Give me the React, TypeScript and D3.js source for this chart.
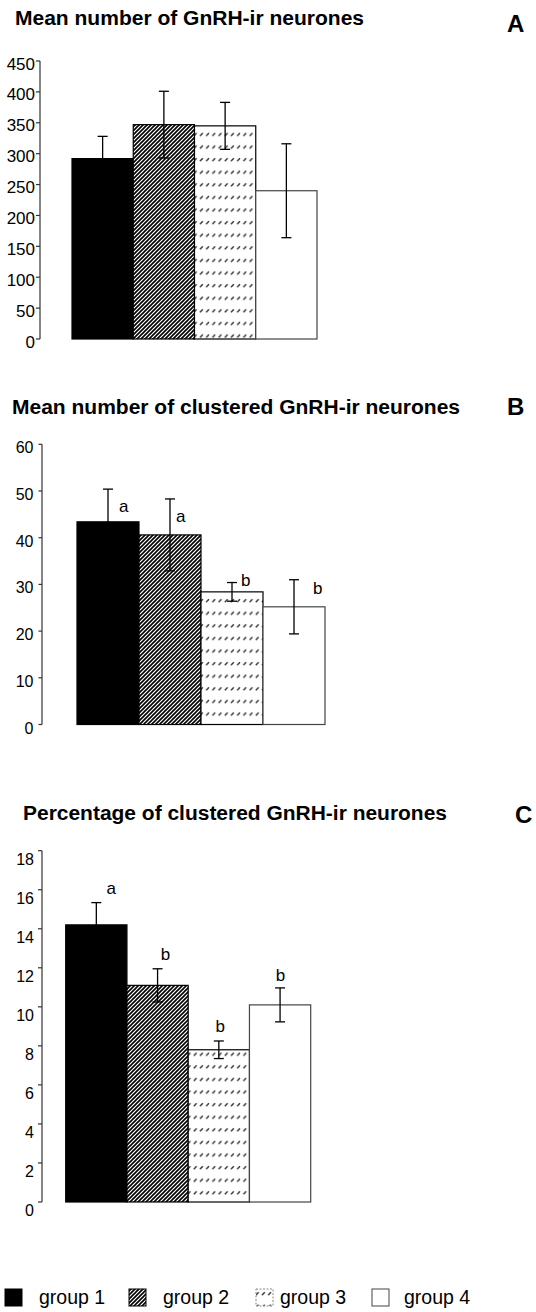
import * as d3 from "d3";

const groups = ["group 1", "group 2", "group 3", "group 4"];

const meanA = [292, 347, 345, 240];
const semA = [36, 54, 38, 76];
const ticksA = [0, 50, 100, 150, 200, 250, 300, 350, 400, 450];

const meanB = [43.4, 40.6, 28.4, 25.2];
const semB = [7.0, 7.7, 2.0, 5.8];
const lettersB = ["a", "a", "b", "b"];
const letterAtB = [45.6, 43.4, 29.7, 27.9];
const ticksB = [0, 10, 20, 30, 40, 50, 60];

const meanC = [14.2, 11.1, 7.8, 10.1];
const semC = [1.14, 0.85, 0.45, 0.87];
const lettersC = ["a", "b", "b", "b"];
const letterAtC = [15.8, 12.4, 8.7, 11.3];
const ticksC = [0, 2, 4, 6, 8, 10, 12, 14, 16, 18];

const FONT = "'Liberation Sans', Arial, Helvetica, sans-serif";
const FILLS = ["#000", "url(#hatch2)", "url(#dash3)", "#fff"];
const EDGES = ["#000", "#000", "#000", "#444"];

type PanelProps = {
  title: string; titleX: number; titleY: number; titleW: number;
  tag: string; tagX: number; tagY: number;
  means: number[]; sems: number[]; ticks: number[];
  letters?: string[]; letterAt?: number[]; letterDx?: number[]; letterAnchor?: string;
  axisX: number; yBottom: number; yTop: number; xBars: [number, number];
  tickFont: number; labelDy: number; labelRight: number; tickLen: number;
};

function Panel(p: PanelProps) {
  const max = p.ticks[p.ticks.length - 1];
  const y = d3.scaleLinear().domain([0, max]).range([p.yBottom, p.yTop]);
  const x = d3.scaleBand<string>().domain(groups).range(p.xBars).paddingInner(0).paddingOuter(0);
  const bw = x.bandwidth();
  return (
    <g fontFamily={FONT}>
      <text x={p.titleX} y={p.titleY} fontSize={20} fontWeight="bold" textLength={p.titleW} lengthAdjust="spacingAndGlyphs">{p.title}</text>
      <text x={p.tagX} y={p.tagY} fontSize={24} fontWeight="bold">{p.tag}</text>
      <line x1={p.axisX} x2={p.axisX} y1={y(max)} y2={y(0)} stroke="#333" strokeWidth={1.2} />
      {p.ticks.map(t => (
        <g key={t}>
          <line x1={p.axisX - p.tickLen} x2={p.axisX} y1={y(t)} y2={y(t)} stroke="#333" strokeWidth={1.2} />
          <text x={p.labelRight} y={y(t) + p.labelDy} fontSize={p.tickFont} textAnchor="end">{t}</text>
        </g>
      ))}
      {groups.map((g, i) => (
        <rect key={g} x={x(g)} y={y(p.means[i])} width={bw} height={y(0) - y(p.means[i])}
          fill={FILLS[i]} stroke={EDGES[i]} strokeWidth={1.2} />
      ))}
      {groups.map((g, i) => {
        const cx = (x(g) as number) + bw / 2;
        const hi = y(p.means[i] + p.sems[i]), lo = y(p.means[i] - p.sems[i]);
        return (
          <g key={g} stroke="#000" strokeWidth={1.3}>
            <line x1={cx} x2={cx} y1={hi} y2={lo} />
            <line x1={cx - 5} x2={cx + 5} y1={hi} y2={hi} />
            <line x1={cx - 5} x2={cx + 5} y1={lo} y2={lo} />
          </g>
        );
      })}
      {p.letters && p.letters.map((l, i) => (
        <text key={i} x={(x(groups[i]) as number) + bw / 2 + (p.letterDx ? p.letterDx[i] : 0)}
          y={y(p.letterAt![i])} fontSize={17} textAnchor={p.letterAnchor || "middle"}>{l}</text>
      ))}
    </g>
  );
}

export default function App() {
  const legendX = [5, 129, 256, 372];
  const legendTextX = [39, 163, 280, 404];
  return (
    <div style={{ position: "absolute", left: 0, top: 0 }}>
      <svg width={536} height={1312} viewBox="0 0 536 1312" style={{ display: "block", background: "#fff" }}>
        <defs>
          <pattern id="hatch2" patternUnits="userSpaceOnUse" width={4} height={4}>
            <rect width={4} height={4} fill="#fff" />
            <path d="M-0.5,4.5 L4.5,-0.5 M-1,1 L1,-1 M3,5 L5,3" stroke="#000" strokeWidth={1.6} />
          </pattern>
          <pattern id="dash3" patternUnits="userSpaceOnUse" width={6.2} height={12.6}>
            <rect width={6.2} height={12.6} fill="#fff" />
            <path d="M1.6,10 L4.4,7" stroke="#333" strokeWidth={1.4} />
          </pattern>
        </defs>
        <Panel title="Mean number of GnRH-ir neurones" titleX={15} titleY={25} titleW={349}
          tag="A" tagX={507} tagY={32}
          means={meanA} sems={semA} ticks={ticksA}
          axisX={40} yBottom={339} yTop={61} xBars={[72, 317]}
          tickFont={17} labelDy={8.5} labelRight={35} tickLen={4} />
        <Panel title="Mean number of clustered GnRH-ir neurones" titleX={12} titleY={414} titleW={448}
          tag="B" tagX={507} tagY={415}
          means={meanB} sems={semB} ticks={ticksB}
          letters={lettersB} letterAt={letterAtB} letterDx={[11, 6, 9, 19]} letterAnchor="start"
          axisX={42} yBottom={724.5} yTop={444.3} xBars={[77, 325]}
          tickFont={16} labelDy={9} labelRight={33.5} tickLen={3.5} />
        <Panel title="Percentage of clustered GnRH-ir neurones" titleX={23} titleY={820} titleW={424}
          tag="C" tagX={515} tagY={823}
          means={meanC} sems={semC} ticks={ticksC}
          letters={lettersC} letterAt={letterAtC} letterDx={[15, 8, 1.5, 0.5]}
          axisX={42} yBottom={1202} yTop={850.7} xBars={[65.7, 310.7]}
          tickFont={16} labelDy={14} labelRight={34} tickLen={4} />
        <g fontFamily={FONT}>
          {groups.map((g, i) => (
            <g key={g}>
              <rect x={legendX[i]} y={1289} width={17} height={17} fill={FILLS[i]}
                stroke={i === 2 ? "#888" : EDGES[i]} strokeWidth={1} strokeDasharray={i === 2 ? "2 1.5" : undefined} />
              <text x={legendTextX[i]} y={1304} fontSize={19.5}>{g}</text>
            </g>
          ))}
        </g>
      </svg>
    </div>
  );
}
